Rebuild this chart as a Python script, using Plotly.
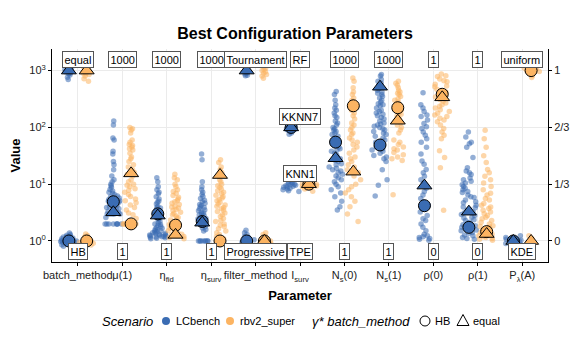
import plotly.graph_objects as go

# parameter order on the x axis (html labels for the tick text)
param_labels = [
    "batch_method", "μ(1)", "η<sub>fid</sub>", "η<sub>surv</sub>", "filter_method",
    "I<sub>surv</sub>", "N<sub>s</sub>(0)", "N<sub>s</sub>(1)", "ρ(0)", "ρ(1)", "P<sub>λ</sub>(A)",
]
right_axis_params = [8, 9, 10]  # values in [0, 1], read on the right axis

# range annotations: upper / lower bound of each parameter
top_labels = ["equal", "1000", "1000", "1000", "Tournament", "RF", "1000", "1000", "1", "1", "uniform"]
bottom_labels = ["HB", "1", "1", "1", "Progressive", "TPE", "1", "1", "0", "0", "KDE"]
mid_labels = [("KKNN7", 5, 2), ("KNN1", 5, 1)]

scenario_names = ["LCbench", "rbv2_super"]
gamma_names = ["HB", "equal"]

# best configurations per scenario (gamma* batch_method = HB / equal)
best_hb_lc = [1, 4.9, 3.0, 2.2, 1, 100, 55, 49, 0.207, 0.080, 0.0]
best_equal_lc = [1000, 3.2, 2.8, 2.1, 1000, 100, 28.6, 520, 0.325, 0.172, 0.0]
best_hb_rb = [1, 2.0, 1.9, 1.0, 1, 10, 240, 222, 0.861, 0.055, 1.0]
best_equal_rb = [1000, 15.5, 1.28, 14.5, 1, 10, 16.6, 131, 0.843, 0.041, 0.0]

# sampled configurations, LCbench
lc_batch_method = [1170, 1120, 1080, 1040, 1010, 990, 970, 940, 910, 880, 840, 760, 700,
                   1.38, 1.3, 1.26, 1.22, 1.19, 1.17, 1.15, 1.13, 1.12, 1.1, 1.09, 1.07, 1.06, 1.05,
                   1.04, 1.03, 1.02, 1.01, 1.0, 0.99, 0.98, 0.97, 0.96, 0.95, 0.94, 0.93, 0.92, 0.9,
                   0.89, 0.88, 0.86, 0.84, 0.81, 0.79]
lc_mu1 = [130, 110, 65, 60, 38, 34, 25, 22, 18, 14, 12, 11, 10, 9.4, 8.8, 8.1, 7.6, 7.2, 6.9,
          6.5, 6.2, 6.0, 5.7, 5.4, 5.1, 5.0, 4.8, 4.6, 4.4, 4.2, 4.0, 3.9, 3.7, 3.5, 3.3, 3.1,
          3.0, 3.0, 3.0, 3.0, 3.0, 2.6, 2.0, 2.0, 2.0, 2.0, 2.0, 2.0, 2.0, 2.0]
lc_eta_fid = [13, 11, 9, 8, 7.2, 6.8, 6, 5.5, 5, 4.8, 4.5, 4.1, 3.9, 3.8, 3.5, 3.3, 3.1, 2.9,
              2.8, 2.6, 2.5, 2.4, 2.2, 2.1, 2.0, 1.95, 1.9, 1.8, 1.72, 1.68, 1.62, 1.57, 1.53,
              1.5, 1.46, 1.43, 1.4, 1.37, 1.35, 1.32, 1.3, 1.28, 1.26, 1.24, 1.22, 1.2, 1.19,
              1.17, 1.16, 1.14, 1.12, 1.1]
lc_eta_surv = [34, 27, 11, 9, 8, 7.2, 6.6, 6.1, 5.6, 5.2, 4.9, 4.6, 4.4, 4.2, 4.0, 3.9, 3.7,
               3.5, 3.4, 3.2, 3.1, 3.0, 2.9, 2.8, 2.6, 2.5, 2.45, 2.35, 2.25, 2.15, 2.05, 2.0,
               1.95, 1.8, 1.7, 1.6, 1.5, 1.0, 1.0, 1.0, 1.0, 1.0, 1.0, 1.0, 1.0]
lc_filter_method = [1000, 950, 900, 870, 830, 810, 1.55, 1.4, 1.3, 1.2, 1.15, 1.1, 1.05, 1.0,
                    0.98, 0.95]
lc_i_surv = [125, 118, 112, 108, 105, 102, 100, 98, 96, 94, 92, 90, 88, 86, 84, 80, 76,
             11.8, 11.2, 10.8, 10.5, 10.2, 10, 9.8, 9.6, 9.4, 9.2, 9.0, 8.8, 8.5, 8.2, 8.0,
             7.7, 7.4]
lc_ns0 = [430, 380, 300, 250, 220, 200, 180, 160, 150, 130, 120, 110, 100, 95, 90, 85, 80,
          75, 70, 65, 60, 58, 55, 50, 48, 45, 42, 40, 38, 35, 33, 30, 28, 26, 25, 23, 22, 20,
          19, 18, 17, 16, 15, 14, 13, 12, 11, 10, 9, 8, 7, 6, 5, 4, 3.5]
lc_ns1 = [850, 800, 700, 650, 600, 550, 500, 480, 450, 420, 400, 380, 350, 330, 300, 280, 260,
          250, 240, 220, 200, 190, 180, 170, 160, 150, 140, 130, 120, 115, 110, 105, 100, 95,
          90, 85, 80, 75, 70, 65, 60, 55, 50, 45, 42, 40, 38, 35, 32, 30, 28, 25, 18, 12, 9.6, 6.2]
lc_rho0 = [0.87, 0.80, 0.78, 0.76, 0.74, 0.73, 0.71, 0.69, 0.67, 0.66, 0.64, 0.62, 0.60, 0.58,
           0.55, 0.51, 0.47, 0.45, 0.42, 0.40, 0.38, 0.36, 0.34, 0.33, 0.31, 0.29, 0.27, 0.25,
           0.23, 0.21, 0.19, 0.17, 0.15, 0.13, 0.12, 0.10, 0.08, 0.06, 0.04, 0.03, 0.025, 0.02,
           0.015, 0.01, 0.005]
lc_rho1 = [0.64, 0.61, 0.58, 0.57, 0.55, 0.49, 0.43, 0.41, 0.40, 0.39, 0.37, 0.36, 0.35, 0.34,
           0.33, 0.32, 0.31, 0.30, 0.29, 0.285, 0.27, 0.26, 0.255, 0.24, 0.23, 0.225, 0.21, 0.2,
           0.195, 0.185, 0.18, 0.17, 0.165, 0.155, 0.15, 0.14, 0.135, 0.125, 0.12, 0.11, 0.105,
           0.095, 0.09, 0.08, 0.075, 0.065, 0.06, 0.05, 0.045, 0.035, 0.03, 0.02, 0.015, 0.01]
lc_p_lambda = [0.03, 0.02, 0.015, 0.01, 0.005, 0.0, -0.005, -0.01, -0.015, -0.02]

# sampled configurations, rbv2_super
rb_batch_method = [1380, 1300, 1200, 1150, 1100, 1050, 1000, 980, 950, 900, 880, 850, 800, 720,
                   650, 1.33, 1.25, 1.18, 1.12, 1.08, 1.04, 1.0, 0.97, 0.94, 0.91, 0.88, 0.85]
rb_mu1 = [100, 95, 90, 80, 60, 55, 50, 48, 45, 42, 40, 35, 30, 28, 25, 22, 20, 18, 16, 15, 14,
          12, 11, 10, 9.6, 9, 8.3, 7.8, 7.2, 6.6, 6.1, 5.5, 5.1, 4.7, 4.3, 3.9, 3.5, 3.1, 2.9,
          2.5, 2.0, 2.0, 2.0, 2.0, 2.0]
rb_eta_fid = [15, 13, 12, 10, 9, 8, 7.4, 6.9, 6.3, 5.9, 5.5, 5.1, 4.9, 4.6, 4.4, 4.1, 3.95,
              3.8, 3.6, 3.45, 3.2, 3.05, 2.9, 2.75, 2.6, 2.5, 2.35, 2.2, 2.05, 1.95, 1.85, 1.75,
              1.68, 1.6, 1.52, 1.47, 1.4, 1.32, 1.27, 1.2, 1.15, 1.1]
rb_eta_surv = [27, 24, 20, 18, 16, 14, 12, 11, 10, 9.4, 8.8, 8.2, 7.7, 7.2, 6.8, 6.4, 6.0, 5.7,
               5.4, 5.1, 4.8, 4.5, 4.3, 4.1, 3.9, 3.7, 3.5, 3.3, 3.1, 2.9, 2.7, 2.5, 2.3, 2.2,
               2.0, 1.9, 1.8, 1.65, 1.5, 1.4, 1.3, 1.2, 1.1, 1.0]
rb_filter_method = [1400, 1300, 1250, 1180, 1100, 1050, 1000, 950, 900, 850, 800, 730,
                    1.4, 1.3, 1.2, 1.1, 1.05, 1.0, 0.95, 0.9]
rb_i_surv = [11, 10.6, 10.2, 10, 9.6, 9.3, 9.0, 8.6, 8.2, 7.5]
rb_ns0 = [740, 650, 500, 420, 380, 330, 300, 260, 240, 200, 180, 160, 140, 120, 110, 100, 90,
          80, 75, 65, 60, 55, 50, 45, 40, 35, 30, 28, 25, 22, 20, 18, 16, 14, 12, 10, 9, 8, 7,
          6, 5, 4, 3, 2.2]
rb_ns1 = [650, 600, 550, 500, 450, 420, 400, 380, 350, 320, 300, 280, 260, 240, 220, 200, 190,
          180, 170, 160, 150, 140, 130, 120, 110, 100, 90, 80, 60, 55, 50, 45, 42, 40, 36, 33,
          30, 28, 26, 6.5]
rb_rho0 = [0.98, 0.97, 0.965, 0.95, 0.94, 0.935, 0.92, 0.91, 0.905, 0.89, 0.88, 0.875, 0.86,
           0.85, 0.845, 0.83, 0.82, 0.81, 0.80, 0.79, 0.78, 0.77, 0.76, 0.75, 0.74, 0.73, 0.72,
           0.71, 0.70, 0.68, 0.66, 0.64, 0.62, 0.60, 0.53, 0.49, 0.43, 0.18]
rb_rho1 = [0.65, 0.60, 0.55, 0.50, 0.46, 0.42, 0.40, 0.38, 0.36, 0.34, 0.32, 0.30, 0.28, 0.27,
           0.25, 0.24, 0.22, 0.21, 0.2, 0.19, 0.18, 0.17, 0.16, 0.15, 0.14, 0.13, 0.12, 0.11,
           0.10, 0.09, 0.085, 0.08, 0.07, 0.065, 0.06, 0.05, 0.045, 0.04, 0.035, 0.03, 0.025,
           0.02, 0.015, 0.01, 0.005]
rb_p_lambda = [1.04, 1.03, 1.02, 1.015, 1.01, 1.005, 1.0, 0.995, 0.99, 0.985, 0.98, 0.97, 0.96,
               0.03, 0.015, 0.0, -0.015, -0.03]

lc_samples = [lc_batch_method, lc_mu1, lc_eta_fid, lc_eta_surv, lc_filter_method, lc_i_surv,
              lc_ns0, lc_ns1, lc_rho0, lc_rho1, lc_p_lambda]
rb_samples = [rb_batch_method, rb_mu1, rb_eta_fid, rb_eta_surv, rb_filter_method, rb_i_surv,
              rb_ns0, rb_ns1, rb_rho0, rb_rho1, rb_p_lambda]

BLUE = "#3A6CB3"
ORANGE = "#FCB462"
FONT = "Liberation Sans, Arial, sans-serif"
DODGE = 0.2

# the page body adds an 8px offset, so the figure is sized to fit the window
OFF = 8
W, H = 581 - 2 * OFF, 342 - 2 * OFF
M_L, M_T = 44, 41
PW, PH = 496, 213
M_R, M_B = W - M_L - PW, H - M_T - PH


def jitter_trace(samples, offset, color, right):
    xs, ys = [], []
    for i, vals in enumerate(samples):
        if (i in right_axis_params) != right:
            continue
        xs += [i + offset] * len(vals)
        ys += vals
    return go.Box(
        x=xs, y=ys, yaxis="y2" if right else "y",
        boxpoints="all", jitter=1, pointpos=0, width=0.38,
        fillcolor="rgba(0,0,0,0)", line=dict(width=0, color="rgba(0,0,0,0)"),
        marker=dict(color=color, size=5.5, opacity=0.55),
        showlegend=False, hoverinfo="skip",
    )


def best_trace(values, offset, color, symbol, right):
    xs, ys = [], []
    for i, v in enumerate(values):
        if (i in right_axis_params) != right:
            continue
        xs.append(i + offset)
        ys.append(v)
    size = 12 if symbol == "circle" else 13
    return go.Scatter(
        x=xs, y=ys, yaxis="y2" if right else "y", mode="markers",
        marker=dict(color=color, symbol=symbol, size=size, line=dict(color="black", width=1)),
        showlegend=False, hoverinfo="skip",
    )


fig = go.Figure()
for right in (False, True):
    fig.add_trace(jitter_trace(lc_samples, -DODGE, BLUE, right))
    fig.add_trace(jitter_trace(rb_samples, DODGE, ORANGE, right))
for right in (False, True):
    fig.add_trace(best_trace(best_hb_lc, -DODGE, BLUE, "circle", right))
    fig.add_trace(best_trace(best_hb_rb, DODGE, ORANGE, "circle", right))
for right in (False, True):
    fig.add_trace(best_trace(best_equal_lc, -DODGE, BLUE, "triangle-up", right))
    fig.add_trace(best_trace(best_equal_rb, DODGE, ORANGE, "triangle-up", right))

# value labels
label_style = dict(showarrow=False, bgcolor="white", bordercolor="#555555", borderwidth=1,
                   borderpad=1.5, font=dict(size=11, color="black"), xref="x", yref="y")
annotations = []
for i, txt in enumerate(top_labels):
    annotations.append(dict(x=i, y=3.2, text=txt, **label_style))
for i, txt in enumerate(bottom_labels):
    annotations.append(dict(x=i, y=-0.18, text=txt, **label_style))
for txt, i, level in mid_labels:
    annotations.append(dict(x=i, y=level + 0.19, text=txt, **label_style))


# legend, drawn below the plot (screen pixel positions converted to paper coords)
def px(x):
    return (x - OFF - M_L) / PW


def py(y):
    return (M_T + PH - (y - OFF)) / PH


LEG_Y = 321
shapes = []
text_style = dict(xref="paper", yref="paper", showarrow=False, xanchor="left", yanchor="middle")
annotations.append(dict(x=px(100), y=py(LEG_Y), text="<i>Scenario</i>", font=dict(size=13), **text_style))
for name, color, cx in zip(scenario_names, [BLUE, ORANGE], [166, 230]):
    shapes.append(dict(type="circle", xref="paper", yref="paper", xsizemode="pixel", ysizemode="pixel",
                       xanchor=px(cx), yanchor=py(LEG_Y), x0=-4, x1=4, y0=-4, y1=4,
                       fillcolor=color, line=dict(width=0)))
    annotations.append(dict(x=px(cx + 8), y=py(LEG_Y), text=name, font=dict(size=11), **text_style))
annotations.append(dict(x=px(310), y=py(LEG_Y), text="<i>γ* batch_method</i>", font=dict(size=13),
                        **text_style))
for name, cx in zip(gamma_names, [425, 463]):
    if name == "HB":
        shapes.append(dict(type="circle", xref="paper", yref="paper", xsizemode="pixel",
                           ysizemode="pixel", xanchor=px(cx), yanchor=py(LEG_Y),
                           x0=-5, x1=5, y0=-5, y1=5, fillcolor="white",
                           line=dict(color="black", width=1)))
    else:
        shapes.append(dict(type="path", xref="paper", yref="paper", xsizemode="pixel",
                           ysizemode="pixel", xanchor=px(cx), yanchor=py(LEG_Y),
                           path="M -6,-4.5 L 6,-4.5 L 0,6.5 Z", fillcolor="white",
                           line=dict(color="black", width=1)))
    annotations.append(dict(x=px(cx + 8), y=py(LEG_Y), text=name, font=dict(size=11), **text_style))

Y_LOG_RANGE = [-0.37, 3.38]

fig.update_layout(
    width=W, height=H,
    margin=dict(l=M_L, r=M_R, t=M_T, b=M_B),
    paper_bgcolor="white", plot_bgcolor="white",
    font=dict(family=FONT, size=11, color="black"),
    title=dict(text="<b>Best Configuration Parameters</b>", font=dict(size=16),
               x=0.49, xref="paper", xanchor="center",
               y=1 - (33 - OFF) / H, yref="container", yanchor="middle"),
    boxmode="overlay",
    showlegend=False,
    annotations=annotations,
    shapes=shapes,
    xaxis=dict(
        range=[-0.58, 10.58], tickmode="array", tickvals=list(range(len(param_labels))),
        ticktext=param_labels, tickangle=0, automargin=False,
        showgrid=True, gridcolor="#EBEBEB", gridwidth=1,
        showline=True, linecolor="black", linewidth=1, ticks="outside", ticklen=3,
        tickcolor="black", zeroline=False, tickfont=dict(size=11, color="#222"),
        title=dict(text="<b>Parameter</b>", font=dict(size=13), standoff=8),
    ),
    yaxis=dict(
        type="log", range=Y_LOG_RANGE, tickmode="array", tickvals=[1, 10, 100, 1000],
        ticktext=["10<sup>0</sup>", "10<sup>1</sup>", "10<sup>2</sup>", "10<sup>3</sup>"],
        automargin=False,
        showgrid=True, gridcolor="#EBEBEB", gridwidth=1, showline=True, linecolor="black",
        linewidth=1, ticks="outside", ticklen=3, tickcolor="black", zeroline=False,
        tickfont=dict(size=11, color="#222"),
        title=dict(text="<b>Value</b>", font=dict(size=13), standoff=6),
    ),
    yaxis2=dict(
        overlaying="y", side="right", range=[Y_LOG_RANGE[0] / 3, Y_LOG_RANGE[1] / 3],
        tickmode="array", tickvals=[0, 1 / 3, 2 / 3, 1], ticktext=["0", "1/3", "2/3", "1"],
        automargin=False,
        showgrid=False, showline=True, linecolor="black", linewidth=1, ticks="outside",
        ticklen=3, tickcolor="black", zeroline=False, tickfont=dict(size=11, color="#222"),
    ),
)

fig.write_html("out.html")
